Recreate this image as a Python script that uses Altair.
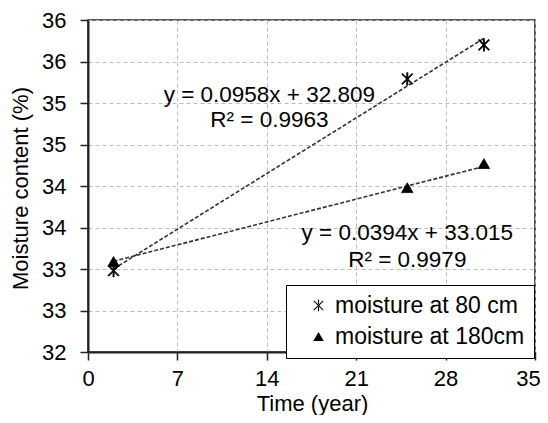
import altair as alt
import pandas as pd

# Data
years = [2, 25, 31]
m80 = [32.98, 35.29, 35.70]
m180 = [33.09, 33.98, 34.27]
series_names = ["moisture at 80 cm", "moisture at 180cm"]

eq_text = ["y = 0.0958x + 32.809", "R² = 0.9963", "y = 0.0394x + 33.015", "R² = 0.9979"]
eq_x = [14.2, 14.2, 25.0, 25.0]
eq_y = [35.10, 34.80, 33.43, 33.11]

x_ticks = [0, 7, 14, 21, 28, 35]
y_ticks = [32, 32.5, 33, 33.5, 34, 34.5, 35, 35.5, 36]

FONT = "Liberation Sans"
# asterisk-like marker built from three thin filled bars
STAR = ("M-0.1,-1.1L0.1,-1.1L0.1,1.1L-0.1,1.1Z"
        "M-0.83,-0.97L0.97,0.83L0.83,0.97L-0.97,-0.83Z"
        "M-0.83,0.97L0.97,-0.83L0.83,-0.97L-0.97,0.83Z")

rows = []
for x, a, b in zip(years, m80, m180):
    rows.append({"t": x, "m": a, "s": series_names[0]})
    rows.append({"t": x, "m": b, "s": series_names[1]})
df = pd.DataFrame(rows)

# trend line endpoints from the fitted equations
trend_rows = []
for name, slope, icpt in [(series_names[0], 0.0958, 32.809), (series_names[1], 0.0394, 33.015)]:
    for x in (min(years), max(years)):
        trend_rows.append({"t": x, "m": slope * x + icpt, "s": name})
tdf = pd.DataFrame(trend_rows)

edf = pd.DataFrame({"x": eq_x, "y": eq_y, "txt": eq_text})

xs = alt.Scale(domain=[0, 35], nice=False, zero=False)
ys = alt.Scale(domain=[32, 36], nice=False, zero=False)

xaxis = alt.Axis(values=x_ticks, title="Time (year)", grid=True, tickSize=8,
                 labelPadding=8, labelFlush=False, titleX=224, titleY=51,
                 titleBaseline="middle",
                 labelOffset={"condition": {"test": "datum.value == 35", "value": -7},
                              "value": 0})
yaxis = alt.Axis(values=y_ticks, format=".0f", title="Moisture content (%)", grid=True,
                 tickSize=8, labelPadding=14, labelFlush=False, titleX=-68, titleY=168,
                 titleBaseline="middle", titleAngle=-90)

trend = alt.Chart(tdf).mark_line(color="#333333", strokeWidth=1.6, strokeDash=[4, 2]).encode(
    x=alt.X("t:Q", scale=xs, axis=xaxis),
    y=alt.Y("m:Q", scale=ys, axis=yaxis),
    detail="s:N",
)

points = alt.Chart(df).mark_point(filled=True, fill="black", stroke="black", strokeWidth=0.8,
                                  opacity=1, size=130).encode(
    x=alt.X("t:Q", scale=xs),
    y=alt.Y("m:Q", scale=ys),
    shape=alt.Shape("s:N", scale=alt.Scale(domain=series_names, range=[STAR, "triangle-up"]),
                    legend=alt.Legend(title=None, orient="none", legendX=198, legendY=265,
                                      fillColor="white", strokeColor="black", padding=9,
                                      symbolOffset=12, labelFontSize=23, labelFont=FONT,
                                      labelColor="black", symbolFillColor="black",
                                      symbolStrokeColor="black", symbolStrokeWidth=0.8,
                                      symbolSize=110, rowPadding=7, labelOffset=5,
                                      labelLimit=400)),
)

eqs = alt.Chart(edf).mark_text(font=FONT, fontSize=22.5, color="black", align="center",
                               baseline="middle").encode(
    x=alt.X("x:Q", scale=xs),
    y=alt.Y("y:Q", scale=ys),
    text="txt:N",
)

chart = alt.layer(trend, points, eqs).properties(
    width=447, height=332,
    autosize=alt.AutoSizeParams(type="none"),
    padding={"left": 80, "top": 12, "right": 5, "bottom": 63},
    background="white",
).configure_view(
    stroke="#222222", strokeWidth=1.5
).configure_axis(
    labelFont=FONT, titleFont=FONT, labelFontSize=22, titleFontSize=22,
    labelColor="black", titleColor="black", titleFontWeight="normal",
    domainColor="#222222", domainWidth=2, tickColor="#222222", tickWidth=1.5,
    gridColor="#bdbdbd", gridDash=[4, 3], gridWidth=1,
)

chart.save("out.html", embed_options={"renderer": "svg", "actions": False})
